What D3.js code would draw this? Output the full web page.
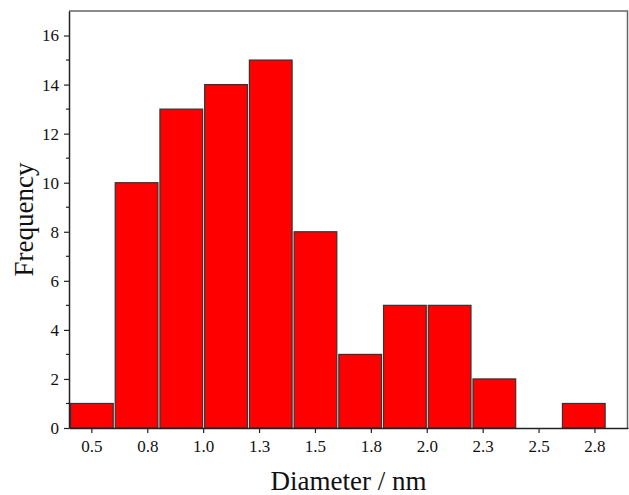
<!DOCTYPE html>
<html>
<head>
<meta charset="utf-8">
<script src="https://cdn.jsdelivr.net/npm/d3@7"></script>
<style>
  html, body { margin: 0; padding: 0; background: #fff; }
  svg { display: block; }
</style>
</head>
<body>
<svg id="chart" width="629" height="495"></svg>
<script>
// Histogram bins (nm): lower and upper edges, counts per bin
const binStarts = [0.4, 0.6, 0.8, 1.0, 1.2, 1.4, 1.6, 1.8, 2.0, 2.2, 2.4, 2.6];
const binEnds   = [0.6, 0.8, 1.0, 1.2, 1.4, 1.6, 1.8, 2.0, 2.2, 2.4, 2.6, 2.8];
const counts    = [1, 10, 13, 14, 15, 8, 3, 5, 5, 2, 0, 1];

// Axis ticks
const xTickValues = [0.5, 0.75, 1.0, 1.25, 1.5, 1.75, 2.0, 2.25, 2.5, 2.75];
const xTickLabels = ["0.5", "0.8", "1.0", "1.3", "1.5", "1.8", "2.0", "2.3", "2.5", "2.8"];
const yTickValues = [0, 2, 4, 6, 8, 10, 12, 14, 16];
const yMinorTicks = [1, 3, 5, 7, 9, 11, 13, 15];

const SERIF = "'Liberation Serif', 'DejaVu Serif', serif";
const svg = d3.select("#chart");
const margin = { left: 69, right: 1, top: 11, bottom: 67 };
const W = 629, H = 495;

const x = d3.scaleLinear().domain([0.4, 2.9]).range([margin.left, W - margin.right]);
const y = d3.scaleLinear().domain([0, 17]).range([H - margin.bottom, margin.top]);

const bins = counts.map((c, i) => ({ x0: binStarts[i], x1: binEnds[i], n: c }));

// Bars
svg.append("g")
  .selectAll("rect")
  .data(bins.filter(d => d.n > 0))
  .join("rect")
  .attr("x", d => x(d.x0) + 1.5)
  .attr("width", d => x(d.x1) - x(d.x0) - 2)
  .attr("y", d => y(d.n))
  .attr("height", d => y(0) - y(d.n))
  .attr("fill", "#ff0000")
  .attr("stroke", "#333")
  .attr("stroke-width", 1.2);

// Frame (top and right)
svg.append("path")
  .attr("d", `M${x(0.4)},${y(17)}H${x(2.9) - 0.5}V${y(0)}`)
  .attr("fill", "none")
  .attr("stroke", "#666")
  .attr("stroke-width", 1.5);

// X axis
const xAxis = svg.append("g")
  .attr("transform", `translate(0,${y(0)})`)
  .call(d3.axisBottom(x)
    .tickValues(xTickValues)
    .tickFormat((d, i) => xTickLabels[i])
    .tickSize(5)
    .tickSizeOuter(0)
    .tickPadding(7));
xAxis.select(".domain").attr("stroke", "#222").attr("stroke-width", 1.5);
xAxis.selectAll(".tick line").attr("stroke", "#222").attr("stroke-width", 1.2);
xAxis.selectAll("text").style("font-size", "17px").style("font-family", SERIF).style("fill", "#111");

// Y axis
const yAxis = svg.append("g")
  .attr("transform", `translate(${x(0.4)},0)`)
  .call(d3.axisLeft(y)
    .tickValues(yTickValues)
    .tickSize(5)
    .tickSizeOuter(0)
    .tickPadding(5));
yAxis.select(".domain").attr("stroke", "#222").attr("stroke-width", 1.5);
yAxis.selectAll(".tick line").attr("stroke", "#222").attr("stroke-width", 1.2);
yAxis.selectAll("text").style("font-size", "17px").style("font-family", SERIF).style("fill", "#111");

// Y minor ticks
svg.append("g")
  .selectAll("line")
  .data(yMinorTicks)
  .join("line")
  .attr("x1", x(0.4) - 3)
  .attr("x2", x(0.4))
  .attr("y1", d => y(d))
  .attr("y2", d => y(d))
  .attr("stroke", "#222")
  .attr("stroke-width", 1.2);

// Axis titles
svg.append("text")
  .attr("x", (x(0.4) + x(2.9)) / 2)
  .attr("y", 490)
  .attr("text-anchor", "middle")
  .style("font-family", SERIF)
  .style("font-size", "27px")
  .style("fill", "#111")
  .text("Diameter / nm");

svg.append("text")
  .attr("transform", `translate(33,${(y(0) + y(17)) / 2}) rotate(-90)`)
  .attr("text-anchor", "middle")
  .style("font-family", SERIF)
  .style("font-size", "27px")
  .style("fill", "#111")
  .text("Frequency");
</script>
</body>
</html>
